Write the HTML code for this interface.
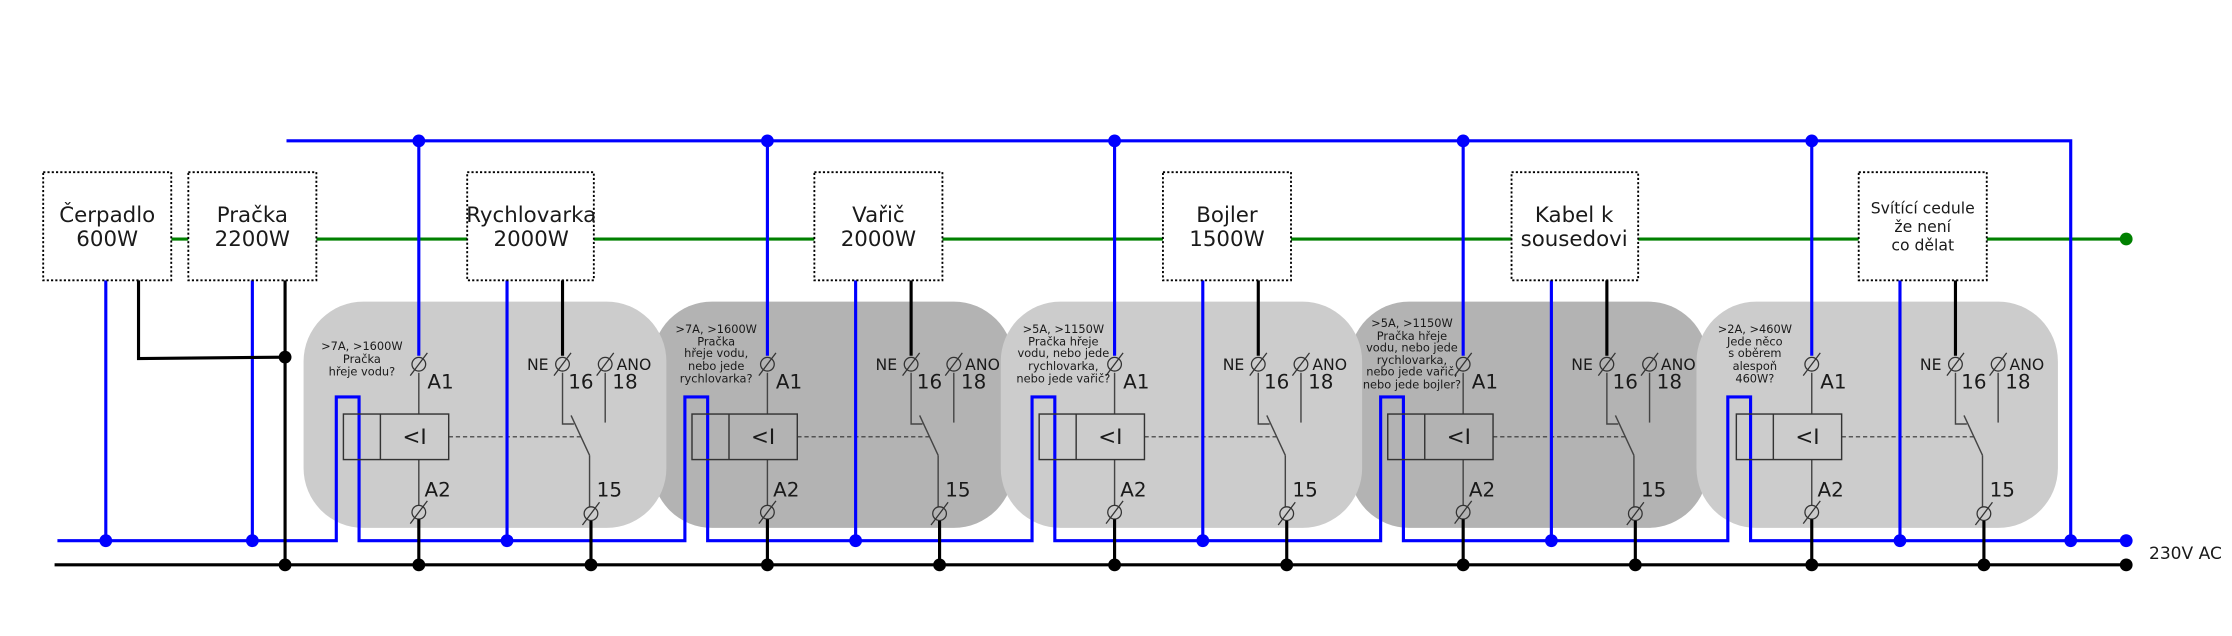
<!DOCTYPE html>
<html><head><meta charset="utf-8"><style>
html,body{margin:0;padding:0;background:#fff}
svg{display:block}
text{font-family:"DejaVu Sans","Liberation Sans",sans-serif;fill:#1a1a1a}
</style></head><body>
<svg width="2232" height="636" viewBox="0 0 1568 447" xmlns="http://www.w3.org/2000/svg">
<defs>
<g id="term"><circle r="4.8" fill="none" stroke="#333" stroke-width="0.9"/><line x1="-6" y1="8" x2="6" y2="-8" stroke="#333" stroke-width="0.9"/></g>
<g id="relay">
  <line x1="294" y1="262" x2="294" y2="291" stroke="#444" stroke-width="1"/>
  <line x1="294" y1="323" x2="294" y2="355" stroke="#444" stroke-width="1"/>
  <rect x="241" y="291" width="74" height="32" fill="none" stroke="#333" stroke-width="1"/>
  <line x1="267" y1="291" x2="267" y2="323" stroke="#333" stroke-width="1"/>
  <line x1="315" y1="307" x2="408" y2="307" stroke="#333" stroke-width="0.8" stroke-dasharray="3,2"/>
  <polyline points="395,262 395,298 403,298" fill="none" stroke="#444" stroke-width="1"/>
  <line x1="401" y1="292" x2="414" y2="320" stroke="#444" stroke-width="1"/>
  <line x1="414" y1="320" x2="414" y2="356" stroke="#444" stroke-width="1"/>
  <line x1="425" y1="262" x2="425" y2="297" stroke="#444" stroke-width="1"/>
  <use href="#term" x="294" y="256"/><use href="#term" x="395" y="256"/><use href="#term" x="425" y="256"/>
  <use href="#term" x="294" y="360"/><use href="#term" x="415" y="361"/>
  <line x1="294" y1="365" x2="294" y2="397" stroke="#000" stroke-width="2.2"/>
  <line x1="415" y1="366" x2="415" y2="397" stroke="#000" stroke-width="2.2"/>
  <line x1="294" y1="99" x2="294" y2="250" stroke="#0000ff" stroke-width="2.2"/>
  <line x1="395" y1="197" x2="395" y2="250" stroke="#000" stroke-width="2.2"/>
  <line x1="356" y1="197" x2="356" y2="380" stroke="#0000ff" stroke-width="2.2"/>
  <circle cx="294" cy="99" r="4.5" fill="#0000ff"/>
  <circle cx="356" cy="380" r="4.5" fill="#0000ff"/>
  <circle cx="294" cy="397" r="4.5" fill="#000"/>
  <circle cx="415" cy="397" r="4.5" fill="#000"/>
</g>
</defs>

<rect x="458" y="212" width="254" height="159" rx="42" fill="#b3b3b3"/>
<rect x="948" y="212" width="252" height="159" rx="42" fill="#b3b3b3"/>
<rect x="213" y="212" width="255" height="159" rx="42" fill="#cccccc"/>
<rect x="703" y="212" width="254" height="159" rx="42" fill="#cccccc"/>
<rect x="1192" y="212" width="254" height="159" rx="42" fill="#cccccc"/>

<line x1="120" y1="168" x2="1494" y2="168" stroke="#008000" stroke-width="2.2"/>
<circle cx="1494" cy="168" r="4.5" fill="#008000"/>

<polyline points="201,99 1455,99 1455,380" fill="none" stroke="#0000ff" stroke-width="2.2"/>

<polyline points="40,380 236,380 236,279 252,279 252,380 481,380 481,279 497,279 497,380 725,380 725,279 741,279 741,380 970,380 970,279 986,279 986,380 1214,380 1214,279 1230,279 1230,380 1494,380" fill="none" stroke="#0000ff" stroke-width="2.2"/>

<line x1="38" y1="397" x2="1494" y2="397" stroke="#000" stroke-width="2.2"/>

<line x1="74" y1="197" x2="74" y2="380" stroke="#0000ff" stroke-width="2.2"/>
<line x1="177" y1="197" x2="177" y2="380" stroke="#0000ff" stroke-width="2.2"/>
<polyline points="97,197 97,252 200,251" fill="none" stroke="#000" stroke-width="2.2"/>
<line x1="200" y1="197" x2="200" y2="397" stroke="#000" stroke-width="2.2"/>
<circle cx="200" cy="251" r="4.5" fill="#000"/>
<circle cx="200" cy="397" r="4.5" fill="#000"/>
<circle cx="74" cy="380" r="4.5" fill="#0000ff"/>
<circle cx="177" cy="380" r="4.5" fill="#0000ff"/>
<circle cx="1455" cy="380" r="4.5" fill="#0000ff"/>
<circle cx="1494" cy="380" r="4.5" fill="#0000ff"/>
<circle cx="1494" cy="397" r="4.5" fill="#000"/>

<use href="#relay" x="0"/>
<use href="#relay" x="245"/>
<use href="#relay" x="489"/>
<use href="#relay" x="734"/>
<use href="#relay" x="979"/>

<g fill="#fff" stroke="#000" stroke-width="1.3" stroke-dasharray="1.5,1.5">
<rect x="30" y="121" width="90" height="76"/>
<rect x="132" y="121" width="90" height="76"/>
<rect x="328" y="121" width="89" height="76"/>
<rect x="572" y="121" width="90" height="76"/>
<rect x="817" y="121" width="90" height="76"/>
<rect x="1062" y="121" width="89" height="76"/>
<rect x="1306" y="121" width="90" height="76"/>
</g>
<g font-size="15" text-anchor="middle">
<text x="75" y="156">Čerpadlo</text><text x="75" y="173">600W</text>
<text x="177" y="156">Pračka</text><text x="177" y="173">2200W</text>
<text x="373" y="156">Rychlovarka</text><text x="373" y="173">2000W</text>
<text x="617" y="156">Vařič</text><text x="617" y="173">2000W</text>
<text x="862" y="156">Bojler</text><text x="862" y="173">1500W</text>
<text x="1106" y="156">Kabel k</text><text x="1106" y="173">sousedovi</text>
</g>
<g font-size="11" text-anchor="middle">
<text x="1351" y="150">Svítící cedule</text><text x="1351" y="163">že není</text><text x="1351" y="176">co dělat</text>
</g>
<text x="1510" y="393" font-size="12">230V AC</text>

<g font-size="14">
<text x="300" y="273">A1</text><text x="298" y="349">A2</text><text x="419" y="349">15</text>
<text x="370" y="260" font-size="11">NE</text><text x="399" y="273">16</text><text x="433" y="260" font-size="11">ANO</text><text x="430" y="273">18</text>
<text x="545" y="273">A1</text><text x="543" y="349">A2</text><text x="664" y="349">15</text>
<text x="615" y="260" font-size="11">NE</text><text x="644" y="273">16</text><text x="678" y="260" font-size="11">ANO</text><text x="675" y="273">18</text>
<text x="789" y="273">A1</text><text x="787" y="349">A2</text><text x="908" y="349">15</text>
<text x="859" y="260" font-size="11">NE</text><text x="888" y="273">16</text><text x="922" y="260" font-size="11">ANO</text><text x="919" y="273">18</text>
<text x="1034" y="273">A1</text><text x="1032" y="349">A2</text><text x="1153" y="349">15</text>
<text x="1104" y="260" font-size="11">NE</text><text x="1133" y="273">16</text><text x="1167" y="260" font-size="11">ANO</text><text x="1164" y="273">18</text>
<text x="1279" y="273">A1</text><text x="1277" y="349">A2</text><text x="1398" y="349">15</text>
<text x="1349" y="260" font-size="11">NE</text><text x="1378" y="273">16</text><text x="1412" y="260" font-size="11">ANO</text><text x="1409" y="273">18</text>
</g>
<g font-size="15" text-anchor="middle">
<text x="291" y="312">&lt;I</text><text x="536" y="312">&lt;I</text><text x="780" y="312">&lt;I</text><text x="1025" y="312">&lt;I</text><text x="1270" y="312">&lt;I</text>
</g>
<g font-size="8" text-anchor="middle">
<text x="254" y="246">&gt;7A, &gt;1600W</text><text x="254" y="255">Pračka</text><text x="254" y="264">hřeje vodu?</text>
<text x="503" y="234">&gt;7A, &gt;1600W</text><text x="503" y="243">Pračka</text><text x="503" y="251">hřeje vodu,</text><text x="503" y="260">nebo jede</text><text x="503" y="269">rychlovarka?</text>
<text x="747" y="234">&gt;5A, &gt;1150W</text><text x="747" y="243">Pračka hřeje</text><text x="747" y="251">vodu, nebo jede</text><text x="747" y="260">rychlovarka,</text><text x="747" y="269">nebo jede vařič?</text>
<text x="992" y="230">&gt;5A, &gt;1150W</text><text x="992" y="239">Pračka hřeje</text><text x="992" y="247">vodu, nebo jede</text><text x="992" y="256">rychlovarka,</text><text x="992" y="264">nebo jede vařič,</text><text x="992" y="273">nebo jede bojler?</text>
<text x="1233" y="234">&gt;2A, &gt;460W</text><text x="1233" y="243">Jede něco</text><text x="1233" y="251">s oběrem</text><text x="1233" y="260">alespoň</text><text x="1233" y="269">460W?</text>
</g>
</svg>
</body></html>
